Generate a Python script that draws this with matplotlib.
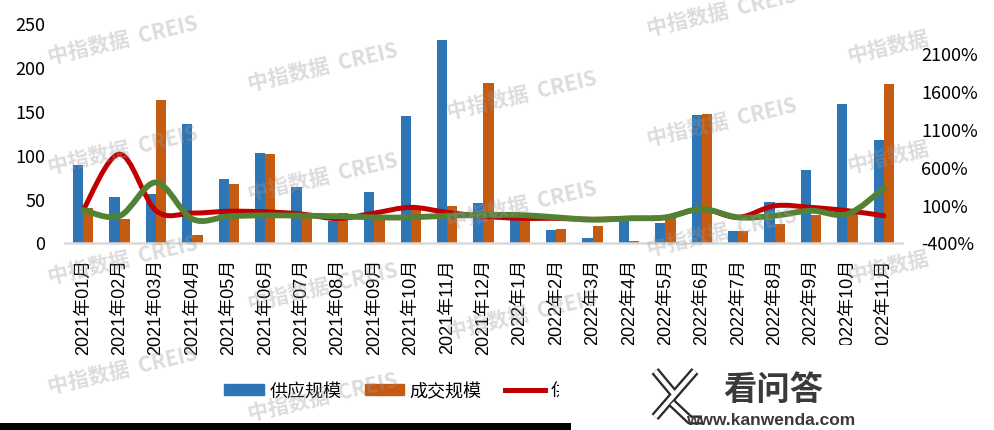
import matplotlib
matplotlib.use('Agg')
import matplotlib.pyplot as plt
import numpy as np
from matplotlib.path import Path
from matplotlib.patches import PathPatch, Rectangle, Patch
from matplotlib.lines import Line2D

# data
months = ['2021年01月', '2021年02月', '2021年03月', '2021年04月', '2021年05月', '2021年06月',
          '2021年07月', '2021年08月', '2021年09月', '2021年10月', '2021年11月', '2021年12月',
          '2022年1月', '2022年2月', '2022年3月', '2022年4月', '2022年5月', '2022年6月',
          '2022年7月', '2022年8月', '2022年9月', '2022年10月', '2022年11月']
supply = [88.6, 51.8, 55.2, 135, 72.3, 102, 63.2, 24.8, 57.5, 144, 230.6, 45,
          35, 14.2, 5.1, 24.8, 22.2, 145.6, 13.1, 46.5, 82.6, 157.7, 116.7]
deal = [39.3, 26.8, 162.3, 8.5, 66.6, 100.8, 30, 33.6, 26, 41, 42, 181.7,
        32, 15.4, 18.8, 1.7, 28.7, 146.7, 13.1, 21, 31.3, 35, 180.5]
supply_yoy = [29, 768, 20, -11, 12, 6, -24, -83, -11, 64, -2, -54,
              -81, -81, -94, -81, -68, 42, -68, 85, 64, 20, -46]
deal_yoy = [29, -50, 394, -90, -54, -41, -46, -53, -68, -68, -46, -37,
            -37, -68, -99, -81, -68, 42, -68, -46, 20, -24, 315]
labels = ['供应规模', '成交规模', '供应规模同比', '成交规模同比']

c_blue, c_orange, c_red, c_green = '#2E75B6', '#C55A11', '#C00000', '#548235'
cjk = ['Noto Sans CJK SC', 'DejaVu Sans']
xfont = ['Liberation Sans', 'Noto Sans CJK SC']

W, H = 995, 431
fx = lambda px: px / W
fy = lambda py: 1 - py / H


def smooth_path(x, y):
    # excel-like smoothed line as cubic bezier segments
    x = np.asarray(x, float)
    y = np.asarray(y, float)
    px = np.concatenate([[x[0]], x, [x[-1]]])
    py = np.concatenate([[y[0]], y, [y[-1]]])
    verts = [(x[0], y[0])]
    codes = [Path.MOVETO]
    for i in range(1, len(x)):
        c1 = (px[i] + (px[i + 1] - px[i - 1]) / 6, py[i] + (py[i + 1] - py[i - 1]) / 6)
        c2 = (px[i + 1] - (px[i + 2] - px[i]) / 6, py[i + 1] - (py[i + 2] - py[i]) / 6)
        verts += [c1, c2, (px[i + 1], py[i + 1])]
        codes += [Path.CURVE4] * 3
    return Path(verts, codes)


fig = plt.figure(figsize=(W / 100, H / 100), dpi=100)
ax = fig.add_axes([fx(65), fy(243.5), (902 - 65) / W, 219.5 / H])
x = np.arange(len(months))
bw = 0.28
b1 = ax.bar(x - bw, supply, bw, align='edge', color=c_blue)
b2 = ax.bar(x, deal, bw, align='edge', color=c_orange)
ax.set_xlim(-0.5, len(months) - 0.5)
ax.set_ylim(0, 250)
ax.set_yticks(range(0, 251, 50))
ax.set_xticks(x)
ax.set_xticklabels(months, rotation=90, va='top', ha='center', fontsize=13, family=xfont)
for lab in ax.get_yticklabels():
    lab.set_family(cjk)
    lab.set_fontsize(13)
ax.tick_params(axis='y', length=0, pad=14)
ax.tick_params(axis='x', length=0, pad=11)
for s in ['top', 'right', 'left']:
    ax.spines[s].set_visible(False)
ax.spines['bottom'].set_color('#d9d9d9')
ax.spines['bottom'].set_linewidth(1.8)

ax2 = ax.twinx()
ax2.set_ylim(-400, 2500)
ax2.set_yticks(range(-400, 2101, 500))
ax2.set_yticklabels(['%d%%' % v for v in range(-400, 2101, 500)], fontsize=13, family=cjk)
ax2.tick_params(axis='y', length=0, pad=14)
for s in ['top', 'right', 'left', 'bottom']:
    ax2.spines[s].set_visible(False)
ax2.add_patch(PathPatch(smooth_path(x, supply_yoy), fc='none', ec=c_red, lw=3.6,
                        capstyle='round', joinstyle='round'))
ax2.add_patch(PathPatch(smooth_path(x, deal_yoy), fc='none', ec=c_green, lw=4.2,
                        capstyle='round', joinstyle='round'))

handles = [Patch(color=c_blue), Patch(color=c_orange),
           Line2D([], [], color=c_red, lw=3.6), Line2D([], [], color=c_green, lw=4.2)]
fig.legend(handles, labels, ncol=4, loc='center left', bbox_to_anchor=(fx(224), fy(392)),
           frameon=False, prop={'family': cjk, 'size': 13}, borderpad=0, borderaxespad=0,
           handlelength=2.2, handleheight=0.55, handletextpad=0.3, columnspacing=1.3)

# watermark lattice (skip the ones under the pasted footer or off the page)
for c in range(0, 5):
    for r in range(-2, 5):
        cx = 123 + 199.5 * c
        cy = 40 + 27.5 * c + 110 * r
        if cx > 540 and cy > 330:
            continue
        if not 8 < cy < H - 12:
            continue
        wm = '中指数据  CREIS'
        if c == 4:
            # right column only shows the chinese part in the reference
            wm, cx, cy = '中指数据', cx - 33, cy + 7.6
        fig.text(fx(cx), fy(cy), wm, family=cjk, fontsize=15, weight='bold',
                 color='#9a9a9a', alpha=0.35, rotation=13, ha='center', va='center', zorder=20)

# pasted-over footer: cover box, black bar, site logo
fig.add_artist(Rectangle((fx(504), fy(376)), fx(W) - fx(504), fy(346) - fy(376),
                         transform=fig.transFigure, fc='white', ec='none', zorder=30))
fig.add_artist(Rectangle((fx(559), 0), 1 - fx(559), fy(346),
                         transform=fig.transFigure, fc='white', ec='none', zorder=30))
fig.add_artist(Rectangle((0, 0), fx(571), fy(423.5),
                         transform=fig.transFigure, fc='black', ec='none', zorder=31))
for pts in [[(695, 372), (655, 418)], [(655, 372), (675, 396)], [(672, 404), (690, 421), (702, 421)]]:
    xs = [fx(p[0]) for p in pts]
    ys = [fy(p[1]) for p in pts]
    fig.add_artist(Line2D(xs, ys, transform=fig.transFigure, color='#2b2b2b', lw=6.5,
                          solid_capstyle='butt', zorder=32))
    fig.add_artist(Line2D(xs, ys, transform=fig.transFigure, color='white', lw=3.2,
                          solid_capstyle='butt', zorder=33))
fig.text(fx(773), fy(390), '看问答', family=cjk, fontsize=24, weight='bold', color='#3a3a3a',
         ha='center', va='center', zorder=34)
fig.text(fx(771), fy(421), 'www.kanwenda.com', family=['Liberation Sans'], fontsize=12.5,
         weight='bold', color='#3a3a3a', ha='center', va='center', zorder=34)

fig.savefig('out.png', dpi=100)
